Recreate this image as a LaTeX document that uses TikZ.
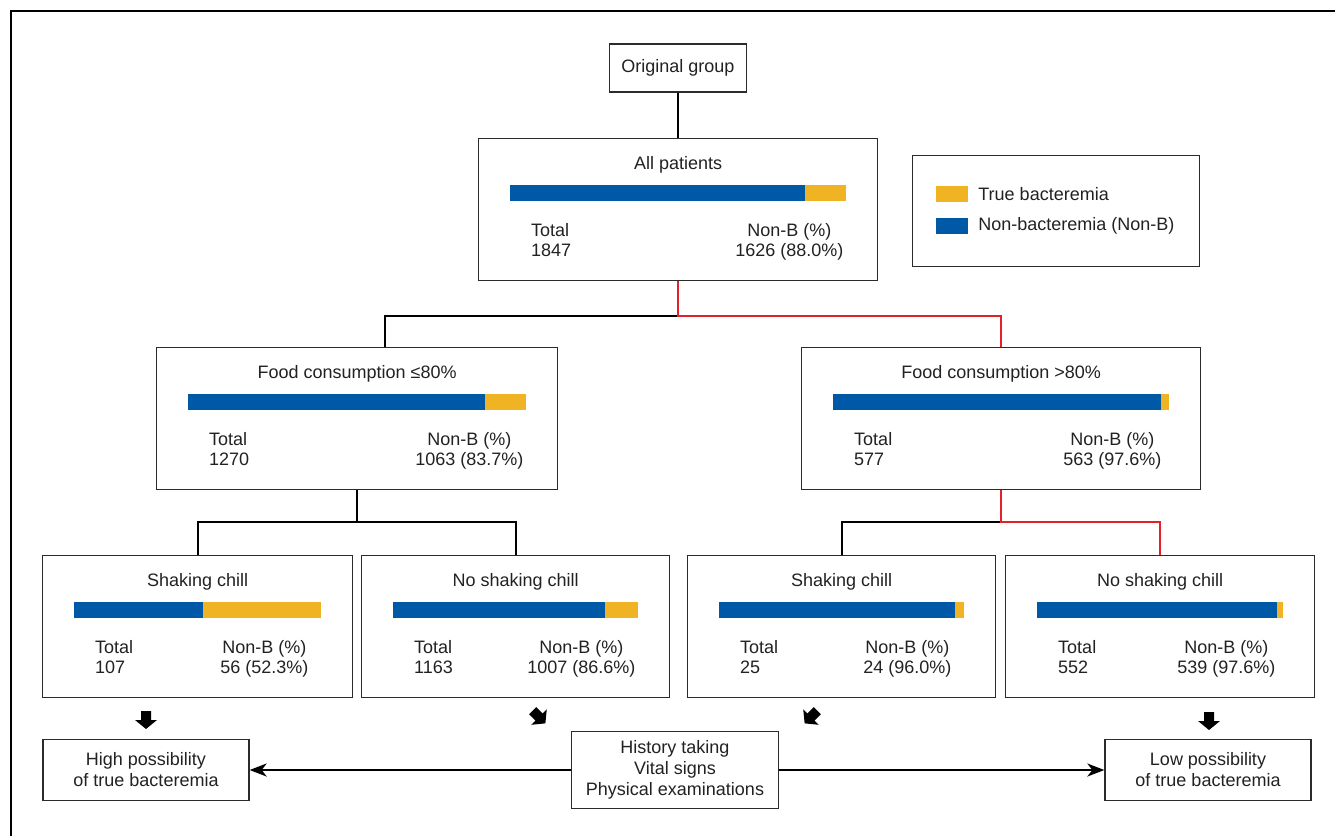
\documentclass[tikz,border=0pt]{standalone}
\usepackage{fontspec}
\setmainfont{Liberation Sans}
\usetikzlibrary{positioning,calc,arrows.meta}
\definecolor{nonBBlue}{HTML}{0059A6}
\definecolor{trueBYellow}{HTML}{F0B323}
\definecolor{pathRed}{HTML}{E42127}
\definecolor{boxLine}{HTML}{2B2B2B}
\definecolor{inkText}{HTML}{222222}
\tikzset{
    treeBox/.style={rectangle, draw=boxLine, line width=1.3pt, fill=white, inner sep=0pt},
    groupBox/.style={treeBox, minimum height=142pt, anchor=north west},
    labelBox/.style={treeBox, align=center, inner sep=4pt, text=inkText},
    statText/.style={inner sep=0pt, text=inkText},
    % Bar colours
    trueB/.style={fill=trueBYellow},
    nonB/.style={fill=nonBBlue},
    swatch/.style={rectangle, minimum width=32pt, minimum height=16pt, inner sep=0pt},
    % Connectors
    treeLink/.style={draw=black, line width=2.3pt},
    redLink/.style={draw=pathRed, line width=2.3pt},
    flowArrow/.style={draw=black, line width=2pt, -{Stealth[length=17pt,width=13pt,inset=5pt]}}
}
% box with title, split bar and counts
\newcommand{\groupbox}[8]{%
    \node[groupBox, minimum width=#4pt] (#1) at (#2,#3) {};
    \node[statText, anchor=base] (#1-title) at ($(#1.north)+(0,31)$) {#5};
    \coordinate (#1-barL) at ($(#1.north west)+(32,47)$);
    \coordinate (#1-barR) at ($(#1.north east)+(-32,63)$);
    \coordinate (#1-split) at ($(#1-barL)!#6!(#1-barR)$);
    \fill[nonB] (#1-barL) rectangle (#1-split |- #1-barR);
    \fill[trueB] (#1-split |- #1-barL) rectangle (#1-barR);
    \node[statText, anchor=base west] (#1-totLabel) at ($(#1.north west)+(53,98)$) {Total};
    \node[statText, anchor=base west] (#1-tot) at ($(#1.north west)+(53,118)$) {#7};
    \node[statText, anchor=base] (#1-nbLabel) at ($(#1.north east)+(-89,98)$) {Non-B (\%)};
    \node[statText, anchor=base] (#1-nb) at ($(#1.north east)+(-89,118)$) {#8};
}
% thick block arrow at x, y, turned by an angle
\newcommand{\blockarrow}[3]{%
    \fill[black, shift={(#1,#2)}, rotate=#3]
        (-9,-5) -- (0,-5) -- (0,-11) -- (9,0) -- (0,11) -- (0,5) -- (-9,5) -- cycle;
}

\begin{document}
\begin{tikzpicture}[x=1pt, y=-1pt, font=\fontsize{18}{21}\selectfont, text=inkText]
\useasboundingbox (0,0) rectangle (1335,836);
\draw[line width=2pt] (11,836) -- (11,11) -- (1335,11);

% top of the tree
\node[labelBox, minimum width=137pt, minimum height=48pt] (orig) at (678,68) {Original group};
\groupbox{all}{478}{138}{399}{All patients}{0.878}{1847}{1626 (88.0\%)}

% legend
\node[treeBox, minimum width=287pt, minimum height=111pt, anchor=north west] (legend) at (912,155) {};
\node[swatch, trueB] (swTrue) at (952,194) {};
\node[swatch, nonB] (swNonB) at (952,226) {};
\node[statText, right=10pt of swTrue] (lgTrue) {True bacteremia};
\node[statText, right=10pt of swNonB] (lgNonB) {Non-bacteremia (Non-B)};

% food consumption
\groupbox{foodLo}{156}{347}{401}{Food consumption ≤80\%}{0.878}{1270}{1063 (83.7\%)}
\groupbox{foodHi}{801}{347}{399}{Food consumption >80\%}{0.976}{577}{563 (97.6\%)}

% shaking chill
\groupbox{chillLo}{42}{555}{310}{Shaking chill}{0.523}{107}{56 (52.3\%)}
\groupbox{noChillLo}{361}{555}{308}{No shaking chill}{0.866}{1163}{1007 (86.6\%)}
\groupbox{chillHi}{687}{555}{308}{Shaking chill}{0.960}{25}{24 (96.0\%)}
\groupbox{noChillHi}{1005}{555}{309}{No shaking chill}{0.976}{552}{539 (97.6\%)}

% outcome boxes
\node[labelBox, minimum width=206pt, minimum height=61pt] (high) at (146,770) {High possibility\\of true bacteremia};
\node[labelBox, minimum width=207pt, minimum height=77pt] (hist) at (675,770) {History taking\\Vital signs\\Physical examinations};
\node[labelBox, minimum width=206pt, minimum height=61pt] (low) at (1208,770) {Low possibility\\of true bacteremia};

% tree connectors
\coordinate (allSplit) at ($(all.south)+(0,35)$);
\coordinate (foodLoIn) at ($(foodLo.north west)+(229,0)$);
\draw[treeLink] (orig.south) -- (orig.south |- all.north);
\draw[treeLink] (allSplit) -| (foodLoIn);
\draw[redLink] (all.south) -- (allSplit) -| (foodHi.north);
\coordinate (foodLoSplit) at ($(foodLo.south)+(0,32)$);
\draw[treeLink] (foodLo.south) -- (foodLoSplit) -| (chillLo.north);
\draw[treeLink] (foodLoSplit) -| (noChillLo.north);
\coordinate (foodHiSplit) at ($(foodHi.south)+(0,32)$);
\draw[treeLink] (foodHiSplit) -| (chillHi.north);
\draw[redLink] (foodHi.south) -- (foodHiSplit) -| (noChillHi.north);

% block arrows
\blockarrow{146}{720}{-90}
\blockarrow{539}{717}{-45}
\blockarrow{811}{717}{-135}
\blockarrow{1209}{721}{-90}

% history arrows
\draw[flowArrow] (hist) -- (high);
\draw[flowArrow] (hist) -- (low);
\end{tikzpicture}
\end{document}
